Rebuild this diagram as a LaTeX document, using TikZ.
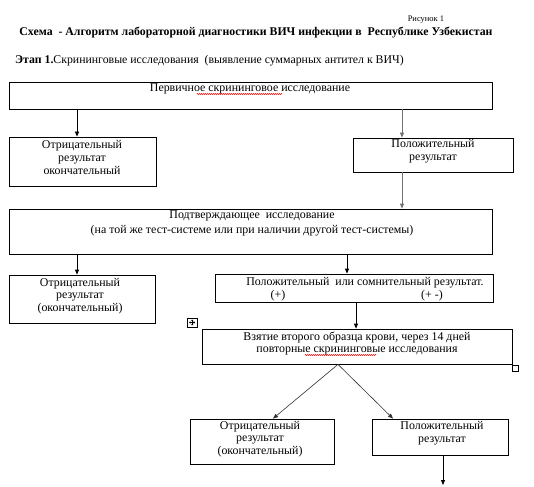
\documentclass[tikz,border=0pt]{standalone}
\usepackage{fontspec}
\setmainfont{Liberation Serif}
\usetikzlibrary{arrows.meta,fit,decorations.pathmorphing}
\begin{document}
\begin{tikzpicture}[x=1pt,y=-1pt,
  box/.style={draw=black, line width=0.8pt, inner sep=0pt},
  txt/.style={font=\fontsize{11.9}{12.8}\selectfont, align=center, inner sep=0pt},
  arr/.style={-{Triangle[length=5pt,width=4pt]}, line width=0.8pt, draw=black},
  garr/.style={arr, draw=black!55},
  darr/.style={-{Triangle[length=5pt,width=4pt]}, line width=0.6pt, draw=black!80},
  squig/.style={draw=red, line width=0.4pt, decorate, decoration={zigzag, segment length=2pt, amplitude=0.6pt}}]
\fill[white] (0,0) rectangle (534,486);
\useasboundingbox (0,0) rectangle (534,486);

% headings
\node[inner sep=0pt, font=\fontsize{8.5}{10}\selectfont] (fig) at (426,20) {Рисунок 1};
\node[inner sep=0pt, font=\fontsize{11.8}{13}\selectfont\bfseries] (title) at (256,33) {Схема~ - Алгоритм лабораторной диагностики ВИЧ инфекции в~ Республике Узбекистан};
\node[inner sep=0pt, anchor=west, font=\fontsize{11.8}{13}\selectfont] (stage) at (15,61) {\textbf{Этап 1.}Скрининговые исследования~ (выявление суммарных антител к ВИЧ)};

% boxes
\node[box, fit={(9,82) (492,109)}] (b1) {};
\node[box, fit={(9,137) (156,186)}] (b2) {};
\node[box, fit={(353,138) (513,172)}] (b3) {};
\node[box, fit={(9,209) (492,254)}] (b4) {};
\node[box, fit={(9,275) (155,323)}] (b5) {};
\node[box, fit={(215,274) (493,302)}] (b6) {};
\node[box, fit={(202,329) (512,364)}] (b7) {};
\node[box, fit={(190,419) (334,464)}] (b8) {};
\node[box, fit={(372,419) (508,455)}] (b9) {};

% texts
\node[txt] (t1) at (250,89) {Первичное скрининговое исследование};
\node[txt] (t2) at (82,157.5) {Отрицательный\\результат\\окончательный};
\node[txt] (t3) at (433,151) {Положительный\\результат};
\node[txt] (t4) at (252,223.5) {Подтверждающее~ исследование\\[1.5pt](на той же тест-системе или при наличии другой тест-системы)};
\node[txt] (t5) at (80,296) {Отрицательный\\результат\\(окончательный)};
\node[txt] (t6) at (365,283) {Положительный~ или сомнительный результат.};
\node[txt] (t6a) at (278,296) {(+)};
\node[txt] (t6b) at (432,296) {(+ -)};
\node[txt] (t7) at (357,343.5) {Взятие второго образца крови, через 14 дней\\повторные скрининговые исследования};
\node[txt] (t8) at (260,439) {Отрицательный\\результат\\(окончательный)};
\node[txt] (t9) at (442,433.5) {Положительный\\результат};

% spell-check underlines
\draw[squig] (197,94) -- (282,94);
\draw[squig] (305,355) -- (376,355);

% table handles
\draw[line width=0.5pt, fill=white] (187,318) rectangle (197,327);
\draw[line width=0.5pt, {Straight Barb[length=1pt,width=2pt]}-{Straight Barb[length=1pt,width=2pt]}] (189,322.5) -- (195,322.5);
\draw[line width=0.5pt, {Straight Barb[length=1pt,width=2pt]}-{Straight Barb[length=1pt,width=2pt]}] (192,319.5) -- (192,325.5);
\draw[line width=0.5pt, fill=white] (512,365) rectangle (518,371);

% connector x positions
\coordinate (xa) at (77,0);
\coordinate (xb) at (402,0);
\coordinate (xc) at (347,0);
\coordinate (xd) at (356,0);
\coordinate (xe) at (338,0);
\coordinate (xf) at (273,0);
\coordinate (xg) at (393,0);
\coordinate (xh) at (443,0);
\coordinate (e9) at (443,485);

% connectors
\draw[arr] (b1.south -| xa) -- (b2.north -| xa);
\draw[garr] (b1.south -| xb) -- (b3.north -| xb);
\draw[garr] (b3.south -| xb) -- (b4.north -| xb);
\draw[arr] (b4.south -| xa) -- (b5.north -| xa);
\draw[arr] (b4.south -| xc) -- (b6.north -| xc);
\draw[arr] (b6.south -| xd) -- (b7.north -| xd);
\draw[darr] (b7.south -| xe) -- (b8.north -| xf);
\draw[darr] (b7.south -| xe) -- (b9.north -| xg);
\draw[arr] (b9.south -| xh) -- (e9);
\end{tikzpicture}
\end{document}
